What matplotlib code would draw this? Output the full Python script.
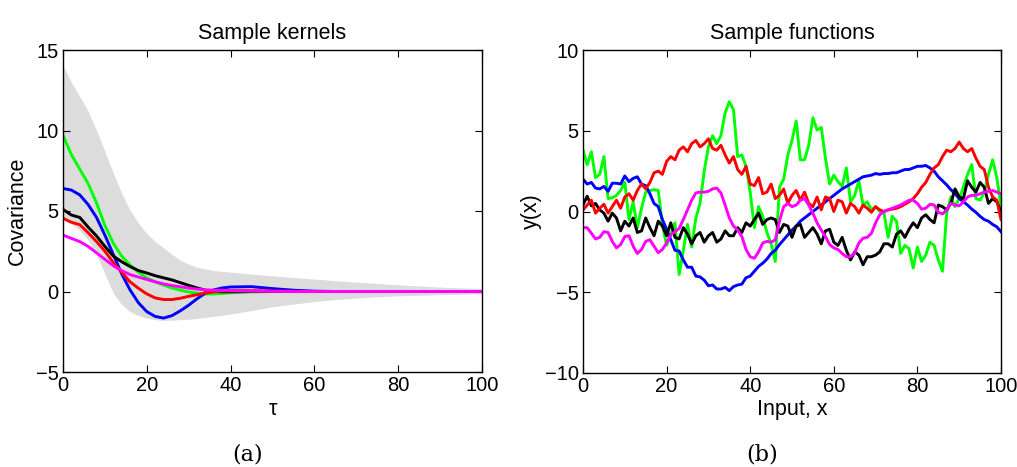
import matplotlib
matplotlib.use("Agg")
import matplotlib.pyplot as plt

plt.rcParams['font.family'] = ['Liberation Sans', 'DejaVu Sans']

# ---------------- Sample kernels data ----------------
tau = [0, 2, 4, 6, 8, 10, 12, 14, 16, 18, 20, 22, 24, 26, 28, 30, 32, 34, 36, 38, 40,
       45, 50, 55, 60, 65, 70, 75, 80, 85, 90, 95, 100]
band_upper = [14.05, 13.0, 12.1, 11.2, 10.0, 8.7, 7.35, 6.1, 5.05, 4.25, 3.6, 3.1, 2.7, 2.3, 1.95,
              1.7, 1.5, 1.4, 1.3, 1.25, 1.2, 1.08, 0.97, 0.87, 0.77, 0.67, 0.58, 0.5, 0.41, 0.34,
              0.27, 0.23, 0.19]
band_lower = [4.5, 4.2, 3.8, 3.2, 2.3, 1.1, -0.1, -0.8, -1.25, -1.5, -1.65, -1.75, -1.8, -1.78,
              -1.75, -1.72, -1.68, -1.6, -1.55, -1.48, -1.4, -1.18, -0.95, -0.78, -0.62, -0.5,
              -0.41, -0.33, -0.27, -0.23, -0.2, -0.17, -0.15]
k_green = [9.7, 8.5, 7.6, 6.7, 5.5, 4.1, 3.0, 2.2, 1.65, 1.2, 0.85, 0.6, 0.4, 0.22, 0.08, -0.03,
           -0.1, -0.15, -0.15, -0.12, -0.08, -0.03, 0, 0, 0, 0, 0, 0, 0, 0, 0, 0, 0]
k_blue = [6.4, 6.3, 6.0, 5.4, 4.6, 3.5, 2.3, 1.1, 0.1, -0.7, -1.25, -1.55, -1.65, -1.5, -1.2,
          -0.85, -0.45, -0.1, 0.1, 0.22, 0.28, 0.3, 0.18, 0.08, 0.02, 0, 0, 0, 0, 0, 0, 0, 0]
k_black = [5.1, 4.75, 4.6, 4.0, 3.45, 2.8, 2.2, 1.85, 1.55, 1.3, 1.15, 0.98, 0.85, 0.72, 0.55,
           0.38, 0.22, 0.08, 0.0, -0.02, -0.02, 0, 0, 0, 0, 0, 0, 0, 0, 0, 0, 0, 0]
k_red = [4.55, 4.3, 4.15, 3.65, 3.1, 2.5, 1.8, 1.2, 0.6, 0.2, -0.15, -0.4, -0.5, -0.5, -0.42,
         -0.3, -0.2, -0.1, -0.02, 0.03, 0.05, 0.05, 0.03, 0.01, 0, 0, 0, 0, 0, 0, 0, 0, 0]
k_magenta = [3.5, 3.3, 3.1, 2.8, 2.4, 2.0, 1.6, 1.3, 1.05, 0.9, 0.75, 0.6, 0.47, 0.37, 0.29,
             0.21, 0.15, 0.1, 0.08, 0.06, 0.04, 0.02, 0.01, 0, 0, 0, 0, 0, 0, 0, 0, 0, 0]

# ---------------- Sample functions data ----------------
x_in = list(range(0, 101))
f_green = [3.8, 2.9, 3.7, 2.1, 2.3, 3.4, 0.8, 0.85, 1.0, 1.3, 1.8, -0.5, 0.6, -1.0, 0.2, 1.2,
           1.3, 1.35, 1.3, -0.8, -2.1, -1.4, -0.7, -3.9, -2.4, -0.8, -2.2, -0.4, 0.5, 2.5, 4.0,
           4.7, 4.2, 4.7, 6.1, 6.8, 6.3, 3.4, 3.5, 2.8, 1.2, -1.0, 0.3, -0.3, -1.3, -2.0, -3.1,
           1.5, 2.0, 3.5, 4.4, 5.6, 3.2, 3.2, 4.1, 5.8, 5.05, 5.2, 3.3, 1.7, 2.25, 1.85, 1.55,
           2.7, 0.6, 1.0, 1.9, 0.4, 0.6, 0.1, 0.3, 0.0, -0.1, -1.6, -0.3, -0.6, -2.6, -2.1, -2.3,
           -3.5, -2.2, -3.1, -2.7, -1.9, -2.1, -3.0, -3.7, -0.1, 0.9, 0.3, 0.8, 1.5, 2.3, 2.9,
           0.8, 0.7, 1.2, 2.3, 3.2, 2.1, 0.3]
f_blue = [2.0, 1.7, 1.8, 1.45, 1.4, 1.55, 1.25, 1.75, 1.75, 1.7, 2.2, 1.85, 2.05, 2.15, 1.7,
          1.6, 1.1, 0.5, 0.3, -0.5, -1.1, -1.75, -2.4, -2.45, -3.0, -3.45, -3.45, -4.0, -4.05,
          -4.25, -4.6, -4.55, -4.8, -4.8, -4.7, -4.9, -4.65, -4.55, -4.5, -4.1, -4.0, -3.7,
          -3.4, -3.2, -2.95, -2.6, -2.4, -2.05, -1.75, -1.45, -1.15, -0.9, -0.6, -0.4, -0.2,
          0.0, 0.2, 0.4, 0.6, 0.8, 1.0, 1.2, 1.4, 1.55, 1.7, 1.85, 2.0, 2.15, 2.2, 2.25, 2.35,
          2.3, 2.35, 2.35, 2.4, 2.4, 2.5, 2.6, 2.6, 2.7, 2.8, 2.8, 2.85, 2.7, 2.5, 2.15, 1.9,
          1.65, 1.35, 1.1, 0.8, 0.6, 0.4, 0.15, -0.05, -0.3, -0.5, -0.6, -0.8, -0.95, -1.25]
f_black = [0.4, 0.95, 0.35, 0.5, 0.1, -0.1, -0.6, -0.1, -0.4, -1.2, -0.6, -0.9, -0.4, -1.3,
           -1.2, -0.4, -1.0, -1.5, -0.6, -0.9, -1.5, -0.7, -1.6, -1.7, -1.0, -1.4, -2.0, -1.5,
           -1.3, -1.9, -1.5, -1.3, -1.9, -1.7, -1.2, -1.5, -1.5, -1.0, -1.3, -0.7, -0.9, -0.5,
           -0.1, -0.8, -0.5, -0.4, -0.5, -1.3, -0.8, -0.9, -1.6, -0.9, -0.8, -1.6, -1.3, -1.0,
           -1.4, -2.0, -1.2, -1.1, -1.9, -2.1, -1.6, -2.4, -3.0, -2.5, -2.7, -3.3, -2.8, -2.8,
           -2.7, -2.5, -2.0, -2.0, -2.2, -1.4, -1.2, -1.6, -1.1, -0.7, -1.0, -0.4, -0.2, -0.5,
           -0.7, 0.4, 0.3, 0.1, 0.5, 1.4, 0.9, 0.8, 1.9, 1.5, 1.2, 1.8, 1.5, 0.5, 0.8, 0.6, 0.0]
f_red = [0.1, 0.4, 0.7, -0.1, 0.2, 0.45, -0.1, 0.3, 0.7, 0.2, 0.9, 1.1, 0.7, 1.3, 1.7, 1.4,
         1.8, 2.4, 2.5, 2.3, 3.1, 3.4, 3.2, 3.8, 4.0, 3.7, 4.2, 4.4, 4.0, 4.2, 4.5, 3.9, 3.8,
         4.1, 3.5, 3.0, 3.4, 2.6, 2.3, 2.8, 1.7, 1.6, 2.1, 1.1, 1.2, 1.7, 0.8, 1.0, 1.4, 0.5,
         1.0, 1.3, 0.7, 1.2, 0.5, 0.3, 0.9, 0.1, 0.9, 0.8, 0.0, 0.7, 0.6, -0.1, 0.5, 0.3, -0.1,
         0.4, 0.2, -0.05, 0.3, 0.1, 0.0, 0.1, 0.15, 0.2, 0.3, 0.45, 0.6, 0.8, 1.1, 1.5, 1.8,
         2.3, 2.7, 2.9, 3.4, 3.8, 3.7, 3.9, 4.3, 3.9, 3.7, 3.9, 3.3, 2.8, 2.6, 1.5, 0.9, 0.7,
         -0.5]
f_magenta = [-1.0, -1.0, -1.35, -1.7, -1.6, -1.25, -1.3, -1.85, -2.25, -2.05, -1.55, -1.5,
             -2.15, -2.6, -2.35, -1.85, -1.75, -2.15, -2.55, -2.35, -1.95, -1.45, -1.25, -1.05,
             -0.5, 0.1, 0.7, 1.15, 1.2, 1.2, 1.25, 1.4, 1.45, 1.15, 0.4, -0.4, -0.9, -1.15,
             -1.55, -2.35, -2.8, -2.9, -2.5, -1.95, -1.85, -1.9, -1.75, -0.6, 0.3, 0.5, 0.3,
             0.4, 0.7, 0.8, 0.4, -0.1, -0.7, -1.15, -1.55, -2.05, -2.25, -2.35, -2.6, -2.8,
             -2.8, -2.55, -1.95, -1.65, -1.6, -1.35, -0.7, -0.2, 0.0, 0.1, 0.2, 0.3, 0.4, 0.55,
             0.7, 0.7, 0.5, 0.15, 0.2, 0.45, 0.4, -0.05, -0.15, 0.1, 0.5, 0.4, 0.35, 0.6, 0.9,
             1.0, 1.0, 1.1, 1.2, 1.25, 1.3, 1.2, 1.1]

LW = 2.1
GREEN, BLUE, BLACK, RED, MAGENTA = '#00ff00', '#0000ff', '#000000', '#ff0000', '#ff00ff'
TICK_FS = 14.5
LABEL_FS = 15.5

fig = plt.figure(figsize=(10.17, 4.67), dpi=100)
ax1 = fig.add_axes([63 / 1017, 1 - 372 / 467, 419 / 1017, 322 / 467])
ax2 = fig.add_axes([583 / 1017, 1 - 373 / 467, 418 / 1017, 323 / 467])

# left: kernels
ax1.fill_between(tau, band_lower, band_upper, color='#dcdcdc', linewidth=0)
for ys, c in [(k_green, GREEN), (k_blue, BLUE), (k_black, BLACK), (k_red, RED), (k_magenta, MAGENTA)]:
    ax1.plot(tau, ys, color=c, lw=LW)
ax1.set_xlim(0, 100)
ax1.set_ylim(-5, 15)
ax1.set_xticks([0, 20, 40, 60, 80, 100])
ax1.set_yticks([-5, 0, 5, 10, 15])
ax1.set_title('Sample kernels', fontsize=LABEL_FS, pad=8)
ax1.set_xlabel('τ', fontsize=LABEL_FS, labelpad=3)
ax1.set_ylabel('Covariance', fontsize=LABEL_FS, labelpad=6)

# right: functions
for ys, c in [(f_green, GREEN), (f_blue, BLUE), (f_black, BLACK), (f_red, RED), (f_magenta, MAGENTA)]:
    ax2.plot(x_in, ys, color=c, lw=LW)
ax2.set_xlim(0, 100)
ax2.set_ylim(-10, 10)
ax2.set_xticks([0, 20, 40, 60, 80, 100])
ax2.set_yticks([-10, -5, 0, 5, 10])
ax2.set_title('Sample functions', fontsize=LABEL_FS, pad=8)
ax2.set_xlabel('Input, x', fontsize=LABEL_FS, labelpad=2)
ax2.set_ylabel('y(x)', fontsize=LABEL_FS, labelpad=2)

for ax in (ax1, ax2):
    ax.tick_params(direction='in', top=True, right=True, length=5, width=0.8,
                   labelsize=TICK_FS, pad=3)
    for s in ax.spines.values():
        s.set_linewidth(1.0)

fig.text(248 / 1017, 1 - 454 / 467, '(a)', ha='center', va='center', fontsize=16,
         family=['DejaVu Serif'])
fig.text(762 / 1017, 1 - 454 / 467, '(b)', ha='center', va='center', fontsize=16,
         family=['DejaVu Serif'])

fig.savefig('out.png', dpi=100)
